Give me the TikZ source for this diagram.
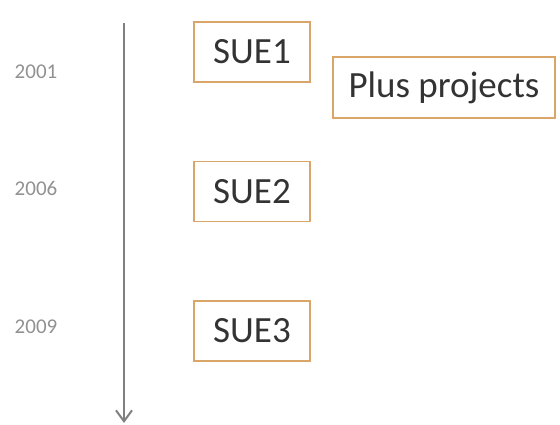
\documentclass[tikz,border=0pt]{standalone}
\usepackage{fontspec}
\setmainfont{Carlito}
\usepackage{tikz}
\usetikzlibrary{arrows.meta}
\definecolor{boxline}{RGB}{218,165,105}
\definecolor{axisgray}{RGB}{128,128,128}
\definecolor{yeargray}{RGB}{145,145,145}
\tikzstyle{sue} = [rectangle, minimum width=116pt, minimum height=60pt, text centered, draw=boxline, line width=1.8pt, text=black!80, font=\fontsize{37}{40}\selectfont]
\tikzstyle{year} = [text=yeargray, font=\fontsize{21}{24}\selectfont]
\tikzstyle{arrow} = [axisgray, line width=2pt, -{Straight Barb[length=11pt,width=16pt]}]

\begin{document}
\begin{tikzpicture}[x=1pt, y=-1pt, node distance=139.5pt]
\useasboundingbox (0,0) rectangle (560,425);
\node(sue1) [sue] at (252,52) {SUE1};
\node(sue2) [sue, below of=sue1] {SUE2};
\node(sue3) [sue, below of=sue2] {SUE3};
\node(plus) [sue, minimum width=222pt, minimum height=61pt] at (444,87.5) {Plus projects};

\node(y2001) [year] at (36,72) {2001};
\node(y2006) [year] at (36,188) {2006};
\node(y2009) [year] at (36,327) {2009};

\coordinate(top) at (124,23);
\coordinate(bottom) at (124,423);
\draw[arrow] (top) -- (bottom);
\end{tikzpicture}
\end{document}
